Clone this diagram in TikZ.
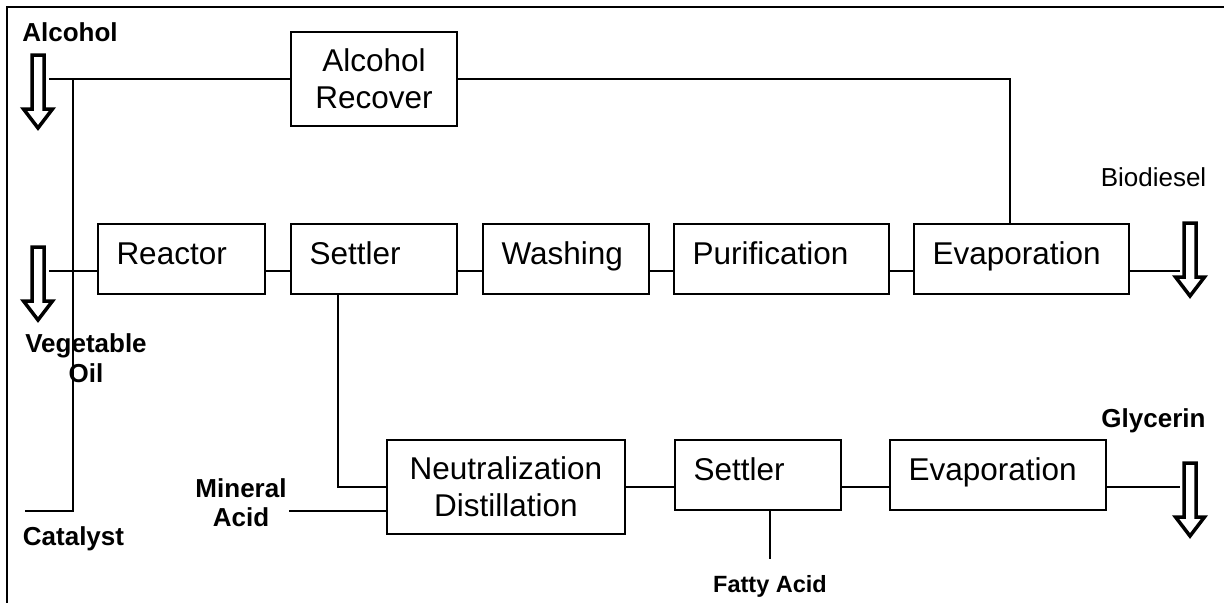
\documentclass[tikz,border=0pt]{standalone}
\usepackage{fontspec}
\setmainfont{Liberation Sans}
\newcommand\boxfont{\fontsize{31.5}{37}\selectfont}
\newcommand\labfont{\bfseries\fontsize{26}{29.5}\selectfont}
\newcommand\plainlabfont{\fontsize{26}{29.5}\selectfont}
\newcommand\hollowdown[4]{\draw[arrowline] (#1-6,#2) -- (#1+6,#2) -- (#1+6,#3) -- (#1+14.5,#3) -- (#1,#4) -- (#1-14.5,#3) -- (#1-6,#3) -- cycle;}
\tikzset{
  box/.style={draw, line width=2pt, inner xsep=18.5pt, inner ysep=0pt, font=\boxfont},
  rowbox/.style={box, align=left, minimum height=70pt, text height=23pt, text depth=12pt},
  twobox/.style={box, align=center, minimum height=94pt},
  conn/.style={line width=1.8pt},
  lab/.style={font=\labfont, inner sep=0pt, align=center},
  arrowline/.style={line width=3.5pt, miter limit=10},
}
\begin{document}
\begin{tikzpicture}[x=1pt,y=-1pt]
\useasboundingbox (0,0) rectangle (1224,603);
% frame
\draw[line width=2.5pt] (1224,7) -- (7,7) -- (7,603);

% boxes row 1
\node[twobox, minimum width=166pt] (alcrec) at (374,79) {Alcohol\\Recover};
\node[rowbox, minimum width=167pt, text width=130pt] (reactor) at (181.5,259) {Reactor};
\node[rowbox, minimum width=166pt, text width=129pt] (settler) at (374,259) {Settler};
\node[rowbox, minimum width=166pt, text width=129pt] (washing) at (566,259) {Washing};
\node[rowbox, minimum width=215pt, text width=178pt] (purif) at (781.5,259) {Purification};
\node[rowbox, minimum width=215pt, text width=178pt] (evap) at (1021.5,259) {Evaporation};
% boxes row 2
\node[twobox, minimum width=238pt] (neut) at (506,487) {Neutralization\\Distillation};
\node[rowbox, minimum width=166pt, text width=129pt] (settlerb) at (758,475) {Settler};
\node[rowbox, minimum width=216pt, text width=179pt] (evapb) at (998,475) {Evaporation};

% free ends
\coordinate (alcstart) at (49,79);
\coordinate (junc) at (73,79);
\coordinate (catend) at (25,511);
\coordinate (vegstart) at (49,271);
\coordinate (bioend) at (1180,271);
\coordinate (minend) at (289,511);
\coordinate (fatend) at (770,559);
\coordinate (glyend) at (1180,487);

% connectors
\draw[conn] (alcstart) -- (alcrec.west);
\draw[conn] (junc) |- (catend);
\draw[conn] (alcrec.east) -| ([xshift=-11.5pt]evap.north);
\draw[conn] (vegstart) -- ([yshift=-12pt]reactor.west);
\draw[conn] ([yshift=-12pt]reactor.east) -- ([yshift=-12pt]settler.west);
\draw[conn] ([yshift=-12pt]settler.east) -- ([yshift=-12pt]washing.west);
\draw[conn] ([yshift=-12pt]washing.east) -- ([yshift=-12pt]purif.west);
\draw[conn] ([yshift=-12pt]purif.east) -- ([yshift=-12pt]evap.west);
\draw[conn] ([yshift=-12pt]evap.east) -- (bioend);
\draw[conn] ([xshift=-36pt]settler.south) |- (neut.west);
\draw[conn] (minend) -- ([yshift=-24pt]neut.west);
\draw[conn] (neut.east) -- ([yshift=-12pt]settlerb.west);
\draw[conn] ([yshift=-12pt]settlerb.east) -- ([yshift=-12pt]evapb.west);
\draw[conn] ([yshift=-12pt]evapb.east) -- (glyend);
\draw[conn] ([xshift=12pt]settlerb.south) -- (fatend);

% hollow arrows
\hollowdown{38}{55}{109}{128}
\hollowdown{38}{247}{301}{320}
\hollowdown{1190}{223}{277}{296}
\hollowdown{1190}{463}{517}{536}

% labels
\node[lab, anchor=base] (alcohol) at (70,41) {Alcohol};
\node[lab] (vegoil) at (86,358) {Vegetable\\Oil};
\node[lab, anchor=base] (catalyst) at (73.5,545) {Catalyst};
\node[lab] (mineral) at (241,502.5) {Mineral\\Acid};
\node[lab, font=\plainlabfont, anchor=base] (biodiesel) at (1153.5,186) {Biodiesel};
\node[lab, anchor=base] (glycerin) at (1153.5,427) {Glycerin};
\node[lab, font=\bfseries\fontsize{23.5}{27}\selectfont, anchor=base] (fatty) at (770,592) {Fatty Acid};
\end{tikzpicture}
\end{document}
